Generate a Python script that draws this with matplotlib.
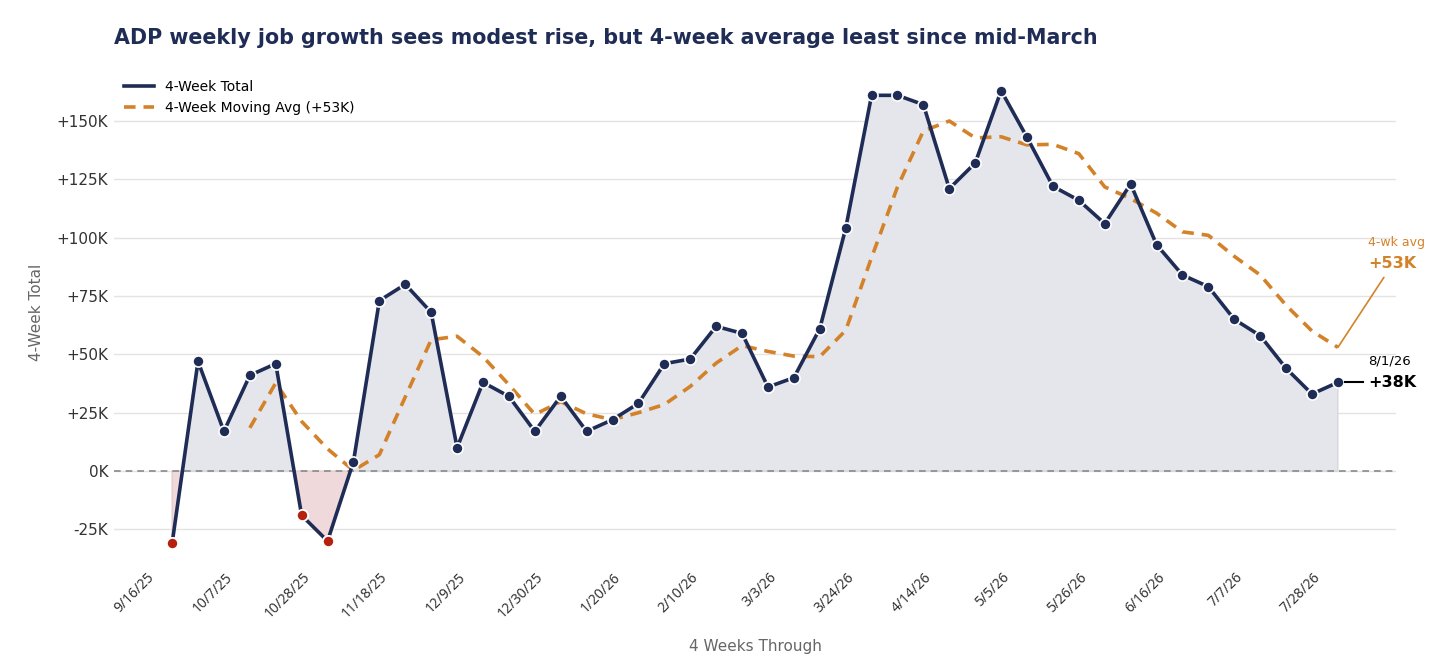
import numpy as np
import pandas as pd
import matplotlib
matplotlib.use("Agg")
import matplotlib.pyplot as plt
import matplotlib.dates as mdates
import matplotlib.transforms as mtransforms
from matplotlib.lines import Line2D
from matplotlib.ticker import FuncFormatter, MultipleLocator

# 4-week totals (thousands), weeks ending Saturday
weeks = pd.date_range("2025-09-20", periods=46, freq="7D")
total = [-31, 47, 17, 41, 46, -19, -30, 4, 73, 80, 68, 10, 38, 32, 17, 32,
         17, 22, 29, 46, 48, 62, 59, 36, 40, 61, 104, 161, 161, 157, 121, 132,
         163, 143, 122, 116, 106, 123, 97, 84, 79, 65, 58, 44, 33, 38]
# 4-week moving average, starts with the 4th week
moving_avg = [18.5, 37.75, 21.25, 9.5, 0.25, 7, 31.75, 56.25, 57.75, 49, 37,
              24.25, 29.75, 24.5, 22, 25, 28.5, 36.25, 46.25, 53.75, 51.25,
              49.25, 49, 60.25, 91.5, 121.75, 145.75, 150, 142.75, 143.25,
              139.75, 140, 136, 121.75, 116.75, 110.5, 102.5, 101, 92, 84,
              71, 60, 53]
tick_dates = pd.date_range("2025-09-16", "2026-07-28", freq="21D")

navy = "#1f2c55"
orange = "#d4822a"
red = "#b5200f"

x = mdates.date2num(weeks.to_pydatetime())
y = np.array(total, dtype=float)
xm = x[3:]

fig = plt.figure(figsize=(14.56, 6.72), dpi=100)
ax = fig.add_axes([0.0783, 0.1671, 0.8805, 0.7362])

ax.fill_between(x, y, 0, where=y >= 0, interpolate=True, color="#e4e6ec",
                edgecolor="#cfd2da", linewidth=0.8, zorder=1)
ax.fill_between(x, y, 0, where=y <= 0, interpolate=True, color="#f0d9da",
                edgecolor="#e3c4c6", linewidth=0.8, zorder=1)

ax.axhline(0, color="#8a8a8a", linestyle=(0, (4, 3)), linewidth=1.2, zorder=2)

ax.plot(x, y, color=navy, linewidth=2.6, marker="o", markersize=8,
        markerfacecolor=navy, markeredgecolor="white", markeredgewidth=1.2,
        zorder=4)
neg = y < 0
ax.plot(x[neg], y[neg], linestyle="none", marker="o", markersize=8,
        markerfacecolor=red, markeredgecolor="white", markeredgewidth=1.2,
        zorder=5)
ma_style = dict(color=orange, linewidth=2.6, linestyle=(0, (3.2, 2.2)))
ax.plot(xm, moving_avg, zorder=3, **ma_style)

pad = 15.7
ax.set_xlim(x[0] - pad, x[-1] + pad)
ax.set_ylim(-38, 174)
ax.yaxis.set_major_locator(MultipleLocator(25))
ax.yaxis.set_major_formatter(FuncFormatter(
    lambda v, p: f"+{v:.0f}K" if v > 0 else f"{v:.0f}K"))

# date labels, rotated
tick_x = mdates.date2num(tick_dates.to_pydatetime())
ax.set_xticks(tick_x)
ax.set_xticklabels([])
lab_tr = ax.get_xaxis_transform() + mtransforms.ScaledTranslation(
    -5 / 100, -15.4 / 100, fig.dpi_scale_trans)
for tx, d in zip(tick_x, tick_dates):
    ax.text(tx, 0, f"{d.month}/{d.day}/{d.strftime('%y')}", transform=lab_tr,
            rotation=45, ha="right", va="center", rotation_mode="anchor",
            fontfamily="Noto Sans", fontsize=10, color="#333333")

ax.tick_params(axis="y", labelsize=11, labelcolor="#333333", length=0, pad=4)
ax.tick_params(axis="x", length=0, pad=14)
ax.grid(axis="y", color="#e3e3e3", linewidth=1)
ax.set_axisbelow(True)
for s in ax.spines.values():
    s.set_visible(False)

ax.set_xlabel("4 Weeks Through", fontsize=11, color="#666666", labelpad=58)
ax.set_ylabel("4-Week Total", fontsize=11, color="#666666", labelpad=9)
ax.xaxis.set_label_coords(0.5, -(647 - 560) / 494.7)
ax.xaxis.label.set_va("center")

fig.text(0.0783, 0.943, "ADP weekly job growth sees modest rise, but 4-week average least since mid-March",
         fontsize=14.85, fontweight="bold", color=navy, va="center", ha="left")

handles = [Line2D([], [], color=navy, linewidth=2.6),
           Line2D([], [], **ma_style)]
labels = ["4-Week Total", f"4-Week Moving Avg (+{moving_avg[-1]:.0f}K)"]
ax.legend(handles, labels, loc="upper left", bbox_to_anchor=(0.0, 0.99),
          frameon=False, fontsize=10, handlelength=2.2, handletextpad=0.8,
          borderaxespad=0.3, labelspacing=0.55)

# end-of-line labels
last_x, last_y, last_ma = x[-1], total[-1], moving_avg[-1]
ax.plot([last_x + 7 / 3.7, last_x + 25 / 3.7], [last_y, last_y], color="black",
        linewidth=1.5, clip_on=False, zorder=6)
ax.annotate(f"+{last_y}K", xy=(last_x, last_y), xytext=(30, 0),
            textcoords="offset pixels", fontsize=11.5, fontweight="bold",
            color="black", va="center", ha="left", annotation_clip=False)
ax.annotate(weeks[-1].strftime("%-m/%-d/%y"), xy=(last_x, last_y),
            xytext=(30, 21), textcoords="offset pixels", fontsize=9.5,
            color="black", va="center", ha="left", annotation_clip=False)

ax.annotate("", xy=(last_x, last_ma), xytext=(46, 70),
            textcoords="offset pixels", annotation_clip=False,
            arrowprops=dict(arrowstyle="-", color=orange, linewidth=1.2,
                            shrinkA=0, shrinkB=0))
ax.annotate(f"+{last_ma:.0f}K", xy=(last_x, last_ma), xytext=(30, 84),
            textcoords="offset pixels", fontsize=11.5, fontweight="bold",
            color=orange, va="center", ha="left", annotation_clip=False)
ax.annotate("4-wk avg", xy=(last_x, last_ma), xytext=(30, 105),
            textcoords="offset pixels", fontsize=9, color=orange,
            va="center", ha="left", annotation_clip=False)

fig.savefig("out.png", dpi=100)
